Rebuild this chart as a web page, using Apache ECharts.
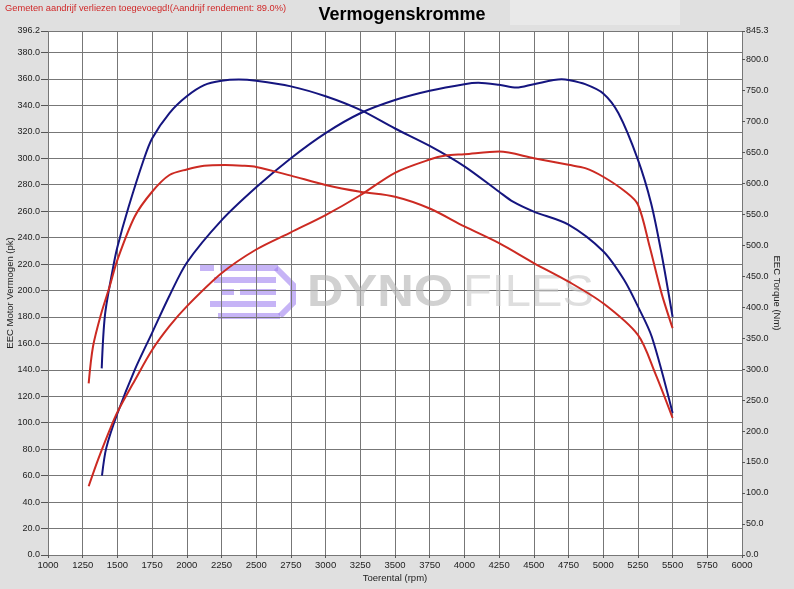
<!DOCTYPE html>
<html><head><meta charset="utf-8">
<script src="https://cdn.jsdelivr.net/npm/echarts@6/dist/echarts.min.js"></script>
<style>html,body{margin:0;padding:0;background:#e0e0e0}#c{width:794px;height:589px}</style>
</head><body><div id="c"></div>
<script>
// Blue torque (Nm, right axis)
const blueTorqueRpm = [1387,1411,1470,1500,1580,1690,1750,1875,2000,2125,2250,2375,2500,2750,3000,3250,3500,3750,4000,4250,4350,4500,4750,5000,5150,5250,5350,5500];
const blueTorqueNm  = [301,388,465,497,561,638,672,713,740,758,765,767,765,756,740,718,688,660,627,586,570,554,533,490,444,401,352,229];
// Blue power (pk, left axis)
const bluePowerRpm = [1389,1420,1500,1625,1750,1875,2000,2250,2500,2750,3000,3250,3500,3750,4000,4100,4250,4375,4500,4700,4750,4870,5000,5110,5250,5345,5420,5500];
const bluePowerPk  = [60,81,107,140,168,196,221,253,278,300,319,334,344,351,356,357,355.5,353.4,356,359.7,359.2,356,349,334,299,266,228,180];
// Red torque (Nm, right axis)
const redTorqueRpm = [1293,1324,1384,1444,1500,1625,1750,1875,2000,2125,2275,2400,2500,2750,3000,3250,3500,3750,4000,4250,4500,4750,5000,5250,5375,5500];
const redTorqueNm  = [277,336,390,433,476,546,586,613,622,628,629,628,626,612,597,586,578,559,530,503,471,441,406,355,293,221];
// Red power (pk, left axis)
const redPowerRpm = [1293,1360,1450,1500,1625,1750,1875,2000,2250,2500,2750,3000,3250,3500,3750,3865,4000,4250,4500,4750,4870,5000,5156,5250,5335,5420,5500];
const redPowerPk  = [52,72,96,108,132,155,173,188,213,231,244,257,272,289,299,302,303,305,300,295,292.5,286,275,265,233,198,171.5];

const xTicks = {min:1000, max:6000, interval:250};
const leftAxis = {min:0, max:396.2, interval:20};
const rightAxis = {min:0, max:845.3, interval:50};

const zip = (a,b)=>a.map((v,i)=>[v,b[i]]);
const font = 'Liberation Sans, Arial, sans-serif';
const chart = echarts.init(document.getElementById('c'));
const BLUE = '#15157f', RED = '#cc2a22';
const PURPLE = 'rgba(160,130,240,0.6)';
chart.setOption({
  backgroundColor:'#e0e0e0',
  animation:false,
  grid:{left:48,right:52,top:31,bottom:34,show:true,backgroundColor:'#ffffff',borderWidth:0,containLabel:false,outerBoundsMode:'none'},
  title:{text:'Vermogenskromme',left:397,top:1,textAlign:'center',
    textStyle:{fontFamily:font,fontSize:18,fontWeight:'bold',color:'#000'}},
  graphic:[
    {type:'rect',z:-1,shape:{x:510,y:0,width:170,height:25},style:{fill:'#e9e9e9'}},
    {type:'text',left:5,top:4,style:{text:'Gemeten aandrijf verliezen toegevoegd!(Aandrijf rendement: 89.0%)',fill:'#d02828',font:'9.3px '+font}},
    {type:'group',left:200,top:265,z:1,children:[
      {type:'rect',shape:{x:0,y:0,width:14,height:6},style:{fill:PURPLE}},
      {type:'rect',shape:{x:20,y:0,width:58,height:6},style:{fill:PURPLE}},
      {type:'rect',shape:{x:14,y:12,width:62,height:6},style:{fill:PURPLE}},
      {type:'rect',shape:{x:22,y:24,width:12,height:6},style:{fill:PURPLE}},
      {type:'rect',shape:{x:40,y:24,width:36,height:6},style:{fill:PURPLE}},
      {type:'rect',shape:{x:10,y:36,width:66,height:6},style:{fill:PURPLE}},
      {type:'rect',shape:{x:18,y:48,width:62,height:6},style:{fill:PURPLE}},
      {type:'polyline',shape:{points:[[76,3],[93,20],[93,38],[80,51]]},style:{stroke:PURPLE,lineWidth:6,fill:null}}
    ]},
    {type:'text',x:307,y:272,scaleX:1.15,z:1,style:{text:'DYNO',fill:'rgba(185,185,185,0.65)',font:'bold 44px '+font}},
    {type:'text',x:463,y:272,scaleX:1.07,z:1,style:{text:'FILES',fill:'rgba(200,200,200,0.6)',font:'44px '+font}}
  ],
  xAxis:{type:'value',min:xTicks.min,max:xTicks.max,interval:xTicks.interval,
    name:'Toerental (rpm)',nameLocation:'middle',nameGap:18,nameMoveOverlap:false,
    nameTextStyle:{fontFamily:font,fontSize:9.5,color:'#222'},
    axisLine:{show:false},axisTick:{show:true,length:3,lineStyle:{color:'#555'}},
    axisLabel:{fontFamily:font,fontSize:9.5,color:'#222',margin:5,formatter:v=>String(v)},
    splitLine:{show:true,lineStyle:{color:'#777',width:1}}},
  yAxis:[
    {type:'value',min:leftAxis.min,max:leftAxis.max,interval:leftAxis.interval,position:'left',
     name:'EEC Motor Vermogen (pk)',nameLocation:'middle',nameGap:33,nameRotate:90,nameMoveOverlap:false,
     nameTextStyle:{fontFamily:font,fontSize:9.5,color:'#222'},
     axisLine:{show:false},axisTick:{show:true,length:7,lineStyle:{color:'#555'}},
     axisLabel:{fontFamily:font,fontSize:9,color:'#222',margin:8,formatter:v=>v.toFixed(1)},
     splitLine:{show:true,lineStyle:{color:'#777',width:1}}},
    {type:'value',min:rightAxis.min,max:rightAxis.max,interval:rightAxis.interval,position:'right',
     name:'EEC Torque (Nm)',nameLocation:'middle',nameGap:30,nameRotate:-90,nameMoveOverlap:false,
     nameTextStyle:{fontFamily:font,fontSize:9.5,color:'#222'},
     axisLine:{show:false},axisTick:{show:true,length:3,lineStyle:{color:'#555'}},
     axisLabel:{fontFamily:font,fontSize:9,color:'#222',margin:4,formatter:v=>v.toFixed(1)},
     splitLine:{show:false}}
  ],
  series:[
    {type:'line',name:'Blue torque',yAxisIndex:1,data:zip(blueTorqueRpm,blueTorqueNm),smooth:0.3,symbol:'none',lineStyle:{color:BLUE,width:2},z:3},
    {type:'line',name:'Blue power',yAxisIndex:0,data:zip(bluePowerRpm,bluePowerPk),smooth:0.3,symbol:'none',lineStyle:{color:BLUE,width:2},z:3},
    {type:'line',name:'Red torque',yAxisIndex:1,data:zip(redTorqueRpm,redTorqueNm),smooth:0.3,symbol:'none',lineStyle:{color:RED,width:2},z:3},
    {type:'line',name:'Red power',yAxisIndex:0,data:zip(redPowerRpm,redPowerPk),smooth:0.3,symbol:'none',lineStyle:{color:RED,width:2},z:3}
  ]
});
</script></body></html>
